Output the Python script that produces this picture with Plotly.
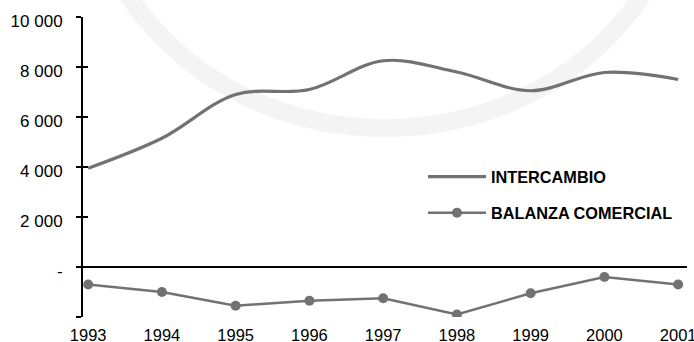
import plotly.graph_objects as go

# Años del periodo
years = [1993, 1994, 1995, 1996, 1997, 1998, 1999, 2000, 2001]

# Intercambio comercial (exportaciones + importaciones)
intercambio = [3950, 5150, 6900, 7100, 8250, 7800, 7050, 7780, 7500]

# Balanza comercial (exportaciones - importaciones)
balanza = [-700, -1000, -1550, -1350, -1250, -1900, -1050, -400, -700]

# Marcas del eje vertical
y_tickvals = [-2000, 0, 2000, 4000, 6000, 8000, 10000]
y_ticktext = ["", "-", "2 000", "4 000", "6 000", "8 000", "10 000"]

GRAY = "#727272"
FONT = "Liberation Sans, Arial, sans-serif"

fig = go.Figure()

fig.add_trace(go.Scatter(
    x=years, y=intercambio, name="INTERCAMBIO",
    mode="lines", line=dict(color=GRAY, width=3.2, shape="spline", smoothing=1.0),
    legendgroup="a",
))
fig.add_trace(go.Scatter(
    x=years, y=balanza, name="BALANZA COMERCIAL",
    mode="lines+markers", line=dict(color=GRAY, width=2.5),
    marker=dict(color=GRAY, size=10),
    legendgroup="b",
))
# traza auxiliar invisible para que se dibujen las marcas interiores del eje vertical
fig.add_trace(go.Scatter(
    x=years[:1], y=balanza[:1], yaxis="y2", mode="markers",
    marker=dict(opacity=0), showlegend=False, hoverinfo="skip",
))

# sello de fondo muy tenue
fig.add_shape(
    type="circle", xref="paper", yref="paper",
    x0=0.003, x1=0.997, y0=0.63, y1=2.46,
    line=dict(color="#f4f4f4", width=18), layer="below",
)

fig.update_layout(
    width=694, height=342,
    margin=dict(l=83, r=7, t=17, b=25),
    paper_bgcolor="white", plot_bgcolor="rgba(0,0,0,0)",
    font=dict(family=FONT, color="black", size=16),
    showlegend=True,
    legend=dict(
        x=(423 - 83) / 604, y=0.525, xanchor="left", yanchor="top",
        bgcolor="rgba(0,0,0,0)", font=dict(family=FONT, size=16.3, color="black", weight="bold"),
        itemwidth=58, tracegroupgap=12,
    ),
    xaxis=dict(
        range=[1992.93, 2001.12], tickvals=years, ticktext=[str(y) for y in years],
        showgrid=False, showline=False, zeroline=False, ticks="",
        ticklabelstandoff=6, tickfont=dict(size=16.5),
        automargin=False, ticklabeloverflow="allow",
    ),
    yaxis=dict(
        range=[-2000, 10000], tickvals=y_tickvals, ticktext=y_ticktext,
        showgrid=False, showline=True, linecolor="black", linewidth=2,
        ticks="outside", ticklen=5, tickwidth=2, tickcolor="black",
        zeroline=True, zerolinecolor="black", zerolinewidth=2,
        ticklabelstandoff=10, ticklabelshift=4, tickfont=dict(size=17),
        automargin=False,
    ),
    yaxis2=dict(
        range=[-2000, 10000], tickvals=y_tickvals, overlaying="y", side="left",
        anchor="x", showticklabels=False, showgrid=False, zeroline=False, showline=False,
        ticks="inside", ticklen=5, tickwidth=2, tickcolor="black",
        automargin=False,
    ),
)

fig.write_html("out.html")
